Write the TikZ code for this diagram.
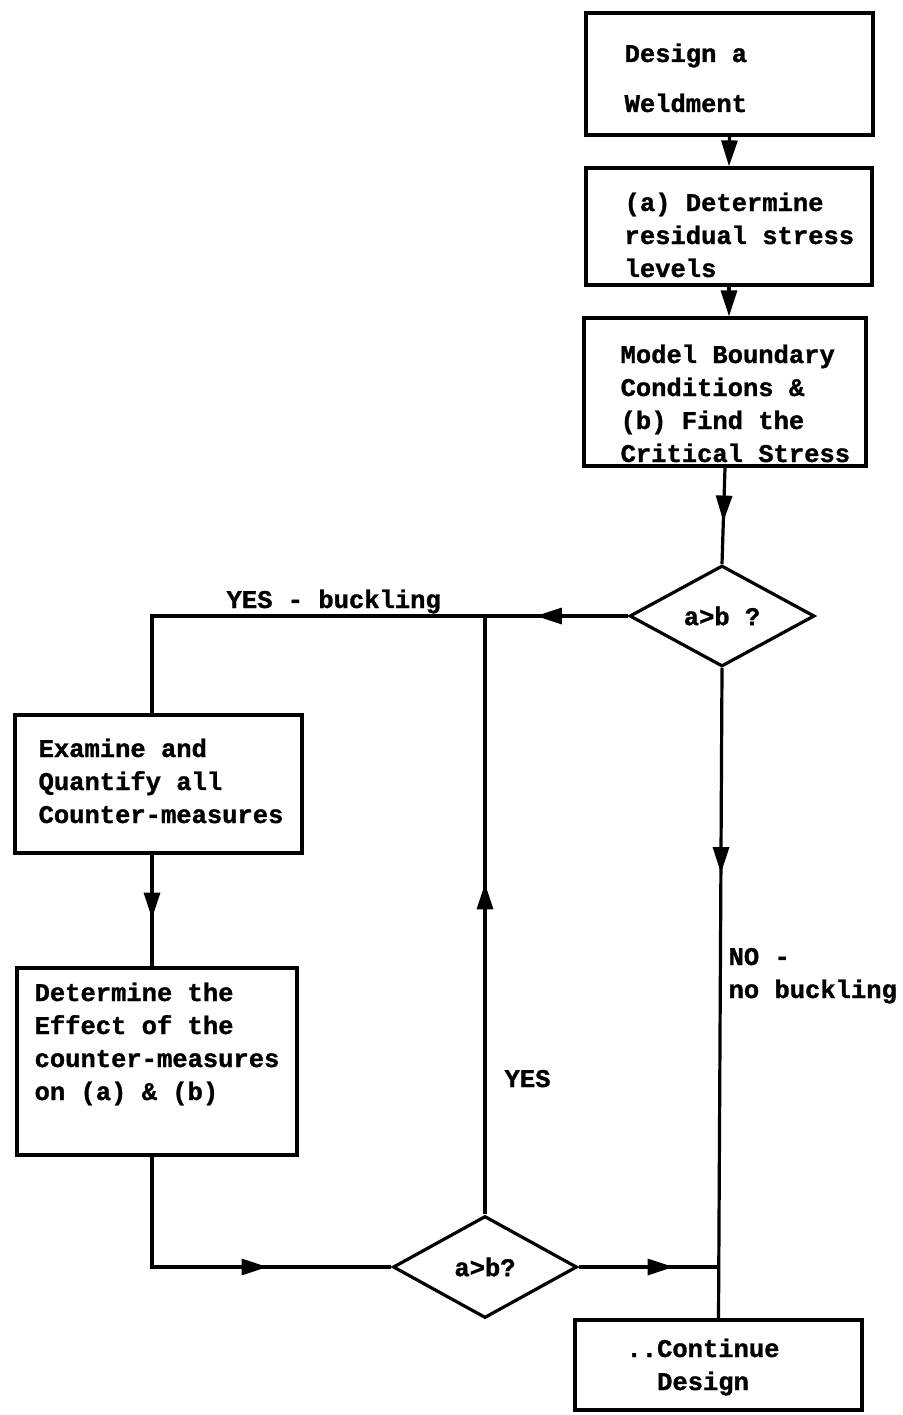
\documentclass[tikz,border=0pt]{standalone}
\usepackage{fontspec}
\newfontfamily\typewriter{Liberation Mono}[BoldFeatures={FakeBold=1.2}]
\usetikzlibrary{arrows.meta,decorations.markings,shapes.geometric}
\begin{document}
\begin{tikzpicture}[x=1pt,y=-1pt,
  line width=3.2pt,
  >={Triangle[length=26pt,width=16pt]},
  every node/.style={font=\typewriter\bfseries\fontsize{25.5}{33}\selectfont},
  stepbox/.style={draw, rectangle, inner sep=0pt},
  boxtext/.style={anchor=base west, align=left, inner sep=0pt},
  decision/.style={draw, diamond, inner sep=0pt},
  midtip/.style={postaction={decorate},
    decoration={markings, mark=at position #1 with {\arrow{>}}}},
]
\useasboundingbox (0,0) rectangle (902,1415);

% process boxes
\node[stepbox, minimum width=287pt, minimum height=122pt] (b1) at (729.5,74) {};
\node[stepbox, minimum width=286pt, minimum height=117pt] (b2) at (729,226.5) {};
\node[stepbox, minimum width=282pt, minimum height=148pt] (b3) at (725,392) {};
\node[stepbox, minimum width=287pt, minimum height=138pt] (b4) at (158.5,784) {};
\node[stepbox, minimum width=280pt, minimum height=187pt] (b5) at (157,1061.5) {};
\node[stepbox, minimum width=287pt, minimum height=90pt] (b6) at (718.5,1365) {};

% box texts (anchored at the baseline of their last line)
\node[boxtext] (b1t) at (623,112) {Design a\\[17pt]Weldment};
\node[boxtext] (b2t) at (623,277) {(a) Determine\\residual stress\\levels};
\node[boxtext] (b3t) at (619,462) {Model Boundary\\Conditions \&\\(b) Find the\\Critical Stress};
\node[boxtext] (b4t) at (37,823) {Examine and\\Quantify all\\Counter-measures};
\node[boxtext] (b5t) at (33,1100) {Determine the\\Effect of the\\counter-measures\\on (a) \& (b)};
\node[anchor=base, align=center, inner sep=0pt] (b6t) at (703,1390) {..Continue\\Design};

% decisions
\node[decision, minimum width=185pt, minimum height=101pt] (d1) at (722,616) {a>b ?};
\node[decision, minimum width=184pt, minimum height=102pt] (d2) at (485,1267) {a>b?};

% branch labels
\node[boxtext] (lyb) at (225,608) {YES - buckling};
\node[boxtext] (lyes) at (503,1087) {YES};
\node[boxtext] (lno) at (727,998) {NO -\\no buckling};

% connectors
\coordinate (cleft) at (152,616);
\coordinate (cbot) at (152,1267);
\draw[->] (b1.south) -- (b2.north);
\draw[->] (b2.south) -- (b2.south |- b3.north);
\draw[midtip=54pt] (b3.south) -- (d1.north);
\draw[midtip=92pt] (d1.west) -- (cleft) -- (cleft |- b4.north);
\draw[midtip=64pt] (cleft |- b4.south) -- (cleft |- b5.north);
\draw[midtip=226pt] (cleft |- b5.south) -- (cbot) -- (d2.west);
\draw[midtip=331pt] (d2.north) -- (d2.north |- d1.west);
\draw[midtip=205pt] (d1.south) -- (b6.north);
\draw[midtip=95pt] (d2.east) -- (d2.east -| b6.north);
\end{tikzpicture}
\end{document}
